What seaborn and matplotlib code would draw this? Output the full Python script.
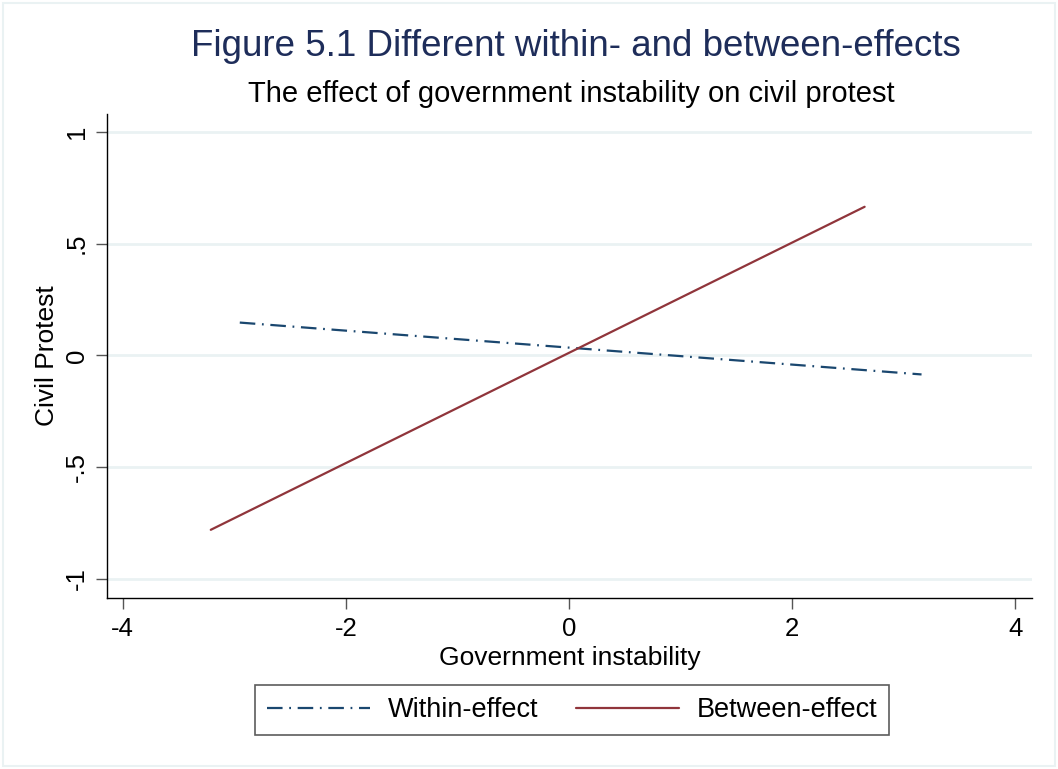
import pandas as pd
import numpy as np
import matplotlib.pyplot as plt
import seaborn as sns
from matplotlib.lines import Line2D
from matplotlib.patches import Rectangle

# 数据：两条回归线的端点
effects = ['Within-effect', 'Between-effect']
within_x = [-2.95, 3.16]
within_y = [0.147, -0.085]
between_x = [-3.21, 2.65]
between_y = [-0.78, 0.665]

x_ticks = [-4, -2, 0, 2, 4]
y_ticks = [-1, -0.5, 0, 0.5, 1]
y_tick_labels = ['-1', '-.5', '0', '.5', '1']

df = pd.DataFrame({
    'x': within_x + between_x,
    'y': within_y + between_y,
    'effect': [effects[0]] * 2 + [effects[1]] * 2,
})

sns.set_style('white')
plt.rcParams['font.family'] = ['Liberation Sans', 'DejaVu Sans']

navy = '#1a476f'
maroon = '#90353b'
grid_col = '#eaf2f3'

fig = plt.figure(figsize=(10.58, 7.69), dpi=100)
ax = fig.add_axes([107 / 1058, 1 - 598 / 769, (1032 - 107) / 1058, (598 - 114) / 769])

for yv in y_ticks:
    ax.axhline(yv, color=grid_col, lw=2, zorder=0)

sns.lineplot(data=df, x='x', y='y', hue='effect', style='effect',
             palette={effects[0]: navy, effects[1]: maroon},
             dashes={effects[0]: (7, 3, 0.8, 3), effects[1]: ''},
             linewidth=1.6, legend=False, ax=ax, estimator=None, sort=False)

ax.set_xlim(-4.14, 4.15)
ax.set_ylim(-1.085, 1.08)
ax.set_xticks(x_ticks)
ax.set_xticklabels([str(t) for t in x_ticks])
ax.set_yticks(y_ticks)
ax.set_yticklabels(y_tick_labels, rotation=90, va='center')
ax.tick_params(axis='both', direction='out', length=8, width=1, color='#555555',
               labelsize=18.5, pad=5, left=True, bottom=True, labelcolor='black')
ax.tick_params(axis='x', pad=6)
ax.set_xlabel('Government instability', fontsize=19, labelpad=3, color='black')
ax.set_ylabel('Civil Protest', fontsize=19, labelpad=4, color='black')

for s in ['top', 'right']:
    ax.spines[s].set_visible(False)
for s in ['left', 'bottom']:
    ax.spines[s].set_color('black')
    ax.spines[s].set_linewidth(1)

fig.text(576 / 1058, 1 - 46 / 769, 'Figure 5.1 Different within- and between-effects',
         ha='center', va='center', fontsize=26.5, color='#1e2d5a')
fig.text(571 / 1058, 1 - 94 / 769, 'The effect of government instability on civil protest',
         ha='center', va='center', fontsize=21, color='black')

handles = [Line2D([], [], color=navy, lw=1.6, linestyle=(0, (7, 3, 0.8, 3))),
           Line2D([], [], color=maroon, lw=1.6)]
leg = fig.legend(handles, effects, loc='center', bbox_to_anchor=(572 / 1058, 1 - 710 / 769),
                 ncol=2, fontsize=19.5, handlelength=3.8, columnspacing=1.4,
                 frameon=True, fancybox=False, borderpad=0.45, handletextpad=0.65)
leg.get_frame().set_edgecolor('#333333')
leg.get_frame().set_linewidth(1.2)
for t in leg.get_texts():
    t.set_color('black')

fig.patches.append(Rectangle((3 / 1058, 3 / 769), 1052 / 1058, 763 / 769,
                             transform=fig.transFigure, fill=False,
                             edgecolor=grid_col, lw=1.5))

fig.savefig('out.png', dpi=100)
